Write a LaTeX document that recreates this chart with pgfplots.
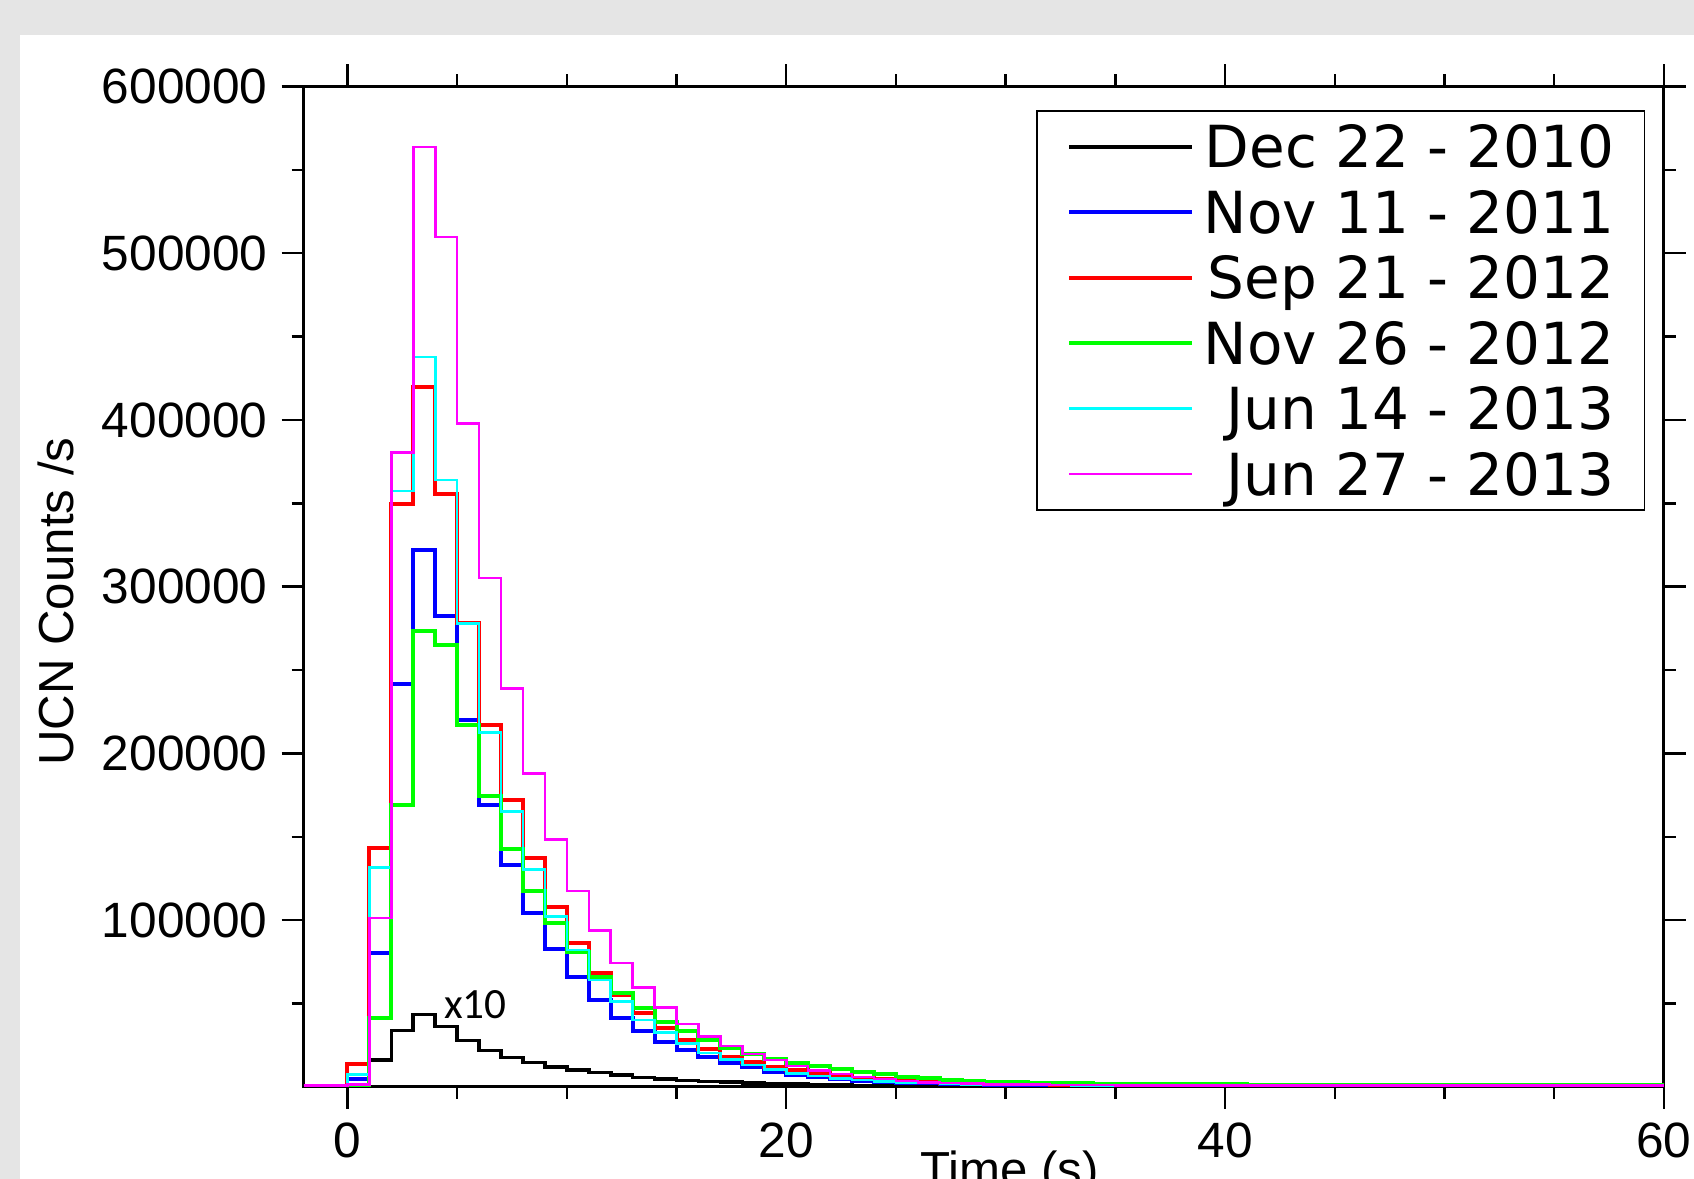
\documentclass[border=0pt]{standalone}
\usepackage{fontspec}
\setmainfont{Liberation Sans}
\newfontfamily\legfont{DejaVu Sans}
\newfontfamily\calfont{Carlito}
\usepackage{pgfplots}
\usepackage{pgfplotstable}
\pgfplotsset{compat=1.18}
\definecolor{bggray}{RGB}{229,229,229}
\definecolor{cblue}{RGB}{0,0,255}
\definecolor{cred}{RGB}{255,0,0}
\definecolor{cgreen}{RGB}{0,255,0}
\definecolor{ccyan}{RGB}{0,255,255}
\definecolor{cmag}{RGB}{255,0,255}

% Dec 22 - 2010 (x10)
\pgfplotstableread{
t v
-2 0
-1 0
0 500
1 16000
2 33800
3 43400
4 36200
5 27800
6 21800
7 17600
8 14600
9 12000
10 10200
11 8600
12 7000
13 5600
14 4600
15 3900
16 3300
17 2800
18 2300
19 1900
20 1600
21 1300
22 1100
23 900
24 750
25 600
26 500
27 400
28 350
30 300
35 200
45 150
60 150
}\tblack
% Nov 11 - 2011
\pgfplotstableread{
t v
-2 300
-1 300
0 4600
1 80000
2 241800
3 322200
4 282200
5 220200
6 169200
7 133200
8 104200
9 82600
10 65800
11 52200
12 41400
13 33600
14 27200
15 22000
16 18200
17 14600
18 11800
19 9200
20 7200
21 5800
22 4600
23 3800
24 3100
25 2600
26 2200
27 1900
28 1600
29 1400
30 1200
32 1000
36 900
45 800
60 800
}\tblue
% Sep 21 - 2012
\pgfplotstableread{
t v
-2 300
-1 300
0 14000
1 143400
2 349800
3 419800
4 355300
5 278400
6 216800
7 171800
8 137000
9 107600
10 86000
11 68600
12 55000
13 44200
14 35200
15 28200
16 22600
17 18200
18 14900
19 12200
20 10000
21 8200
22 6700
23 5500
24 4500
25 3700
26 3100
27 2600
28 2200
29 1900
30 1600
32 1300
36 1000
45 900
60 900
}\tred
% Nov 26 - 2012
\pgfplotstableread{
t v
-2 200
-1 200
0 800
1 41600
2 169200
3 273200
4 264800
5 217200
6 174600
7 142600
8 117600
9 98200
10 80800
11 66200
12 56600
13 47600
14 39200
15 33500
16 28200
17 23200
18 19600
19 17000
20 14600
21 12600
22 10800
23 9200
24 7600
25 6200
26 5200
27 4300
28 3700
29 3200
30 2800
31 2500
32 2300
33 2100
34 1900
36 1700
38 1500
41 1300
45 1100
50 1000
60 1000
}\tgreen
% Jun 14 - 2013
\pgfplotstableread{
t v
-2 500
-1 500
0 7600
1 131600
2 357300
3 437800
4 364000
5 277800
6 212700
7 165200
8 130200
9 102200
10 82200
11 64200
12 51200
13 40200
14 32600
15 26000
16 20200
17 16600
18 13200
19 10600
20 8200
21 6600
22 5200
23 4200
24 3400
25 2800
26 2300
27 1900
28 1600
29 1400
30 1200
33 1000
40 900
60 900
}\tcyan
% Jun 27 - 2013
\pgfplotstableread{
t v
-2 800
-1 800
0 1500
1 101200
2 380600
3 563800
4 509800
5 397800
6 305200
7 239000
8 187800
9 148200
10 117600
11 93800
12 74200
13 59600
14 47600
15 37700
16 30200
17 24600
18 19800
19 16200
20 12600
21 10000
22 7800
23 6000
24 4700
25 3600
26 2800
27 2300
28 1900
29 1600
30 1400
32 1200
35 1000
40 900
60 900
}\tmag

\newcommand{\lt}[1]{\raisebox{0pt}[12pt][1.5pt]{#1}}

\begin{document}
\begin{tikzpicture}
\useasboundingbox (0,0) rectangle (423.5pt,294.75pt);
\clip (0,0) rectangle (423.5pt,294.75pt);
\fill[bggray] (0,0) rectangle (423.5pt,294.75pt);
\fill[white] (5.1pt,0) rectangle (423.5pt,286.1pt);
\begin{axis}[
  at={(75.9pt,23.03pt)}, anchor=south west,
  scale only axis, width=340.05pt, height=250.1pt,
  xmin=-2, xmax=60, ymin=0, ymax=600000,
  scaled x ticks=false, scaled y ticks=false,
  xtick={0,20,40,60}, xticklabels={0,20,40,60},
  minor xtick={5,10,15,25,30,35,45,50,55},
  ytick={100000,200000,300000,400000,500000,600000},
  yticklabels={100000,200000,300000,400000,500000,600000},
  minor ytick={50000,150000,250000,350000,450000,550000},
  tick align=outside,
  major tick length=5.5pt, minor tick length=3pt,
  every tick/.append style={black, line width=0.6pt},
  axis line style={line width=0.8pt},
  tick label style={font=\fontsize{12.4}{14}\selectfont},
  label style={font=\fontsize{12.3}{14}\selectfont},
  xlabel={Time (s)},
  xlabel style={at={(axis description cs:0.519,-0.0636)}, anchor=north, inner sep=0pt},
  ylabel={UCN Counts /s},
  ylabel style={at={(axis description cs:-0.182,0.485)}, anchor=center},
  legend style={at={(0.9865,0.9762)}, anchor=north east, draw=black, line width=0.4pt,
    fill=white, inner xsep=7.5pt, inner ysep=2.2pt, row sep=2.86pt, column sep=2.35pt,
    font=\legfont\fontsize{14.5}{17}\selectfont,
    nodes={inner sep=0pt}, cells={anchor=east}},
  legend image code/.code={\draw[#1] (0pt,0pt) -- (30.8pt,0pt);},
  const plot,
]
\addplot[black, line width=0.9pt] table[x=t,y=v] {\tblack};
\addlegendentry{\lt{Dec 22 - 2010}}
\addplot[cblue, line width=1pt] table[x=t,y=v] {\tblue};
\addlegendentry{\lt{Nov 11 - 2011}}
\addplot[cred, line width=1pt] table[x=t,y=v] {\tred};
\addlegendentry{\lt{Sep 21 - 2012}}
\addplot[cgreen, line width=1pt] table[x=t,y=v] {\tgreen};
\addlegendentry{\lt{Nov 26 - 2012}}
\addplot[ccyan, line width=0.65pt] table[x=t,y=v] {\tcyan};
\addlegendentry{\lt{Jun 14 - 2013}}
\addplot[cmag, line width=0.65pt] table[x=t,y=v] {\tmag};
\addlegendentry{\lt{Jun 27 - 2013}}
\node[font=\calfont\fontsize{10.8}{13}\selectfont, anchor=base west, inner sep=0pt] at (axis cs:4.37,40800) {x10};
\end{axis}
\end{tikzpicture}
\end{document}
